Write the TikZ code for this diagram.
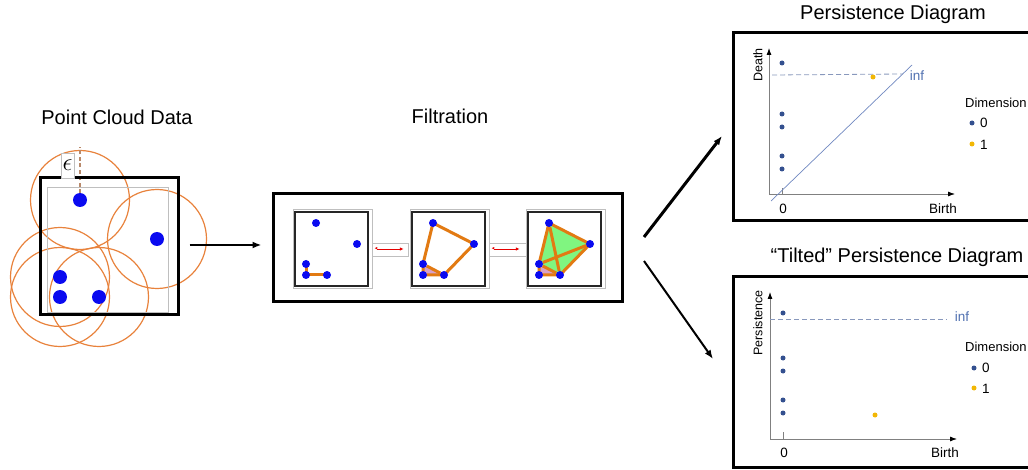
\documentclass[tikz,border=0pt]{standalone}
\usepackage{fontspec}
\setmainfont{Liberation Sans}
\usetikzlibrary{calc}
\usetikzlibrary{arrows.meta}
\usetikzlibrary{backgrounds}
\usepackage{xcolor}
\definecolor{ringorange}{HTML}{E8823C}
\definecolor{cloudblue}{HTML}{0A0AF0}
\definecolor{edgeorange}{HTML}{E27A12}
\definecolor{simplexgreen}{HTML}{80F580}
\definecolor{simplexpink}{HTML}{D8A0C8}
\definecolor{dimzero}{HTML}{34508F}
\definecolor{dimone}{HTML}{F2B705}
\definecolor{infblue}{HTML}{5070B0}
\definecolor{diagline}{HTML}{7088C0}
\definecolor{infline}{HTML}{8898BC}
\definecolor{epsline}{HTML}{B8896A}

\begin{document}
\begin{tikzpicture}[x=1pt,y=-1pt,
 title/.style={font=\fontsize{20}{24}\selectfont},
 lab/.style={font=\fontsize{13.5}{16}\selectfont, inner sep=0},
 bigbox/.style={draw, line width=3pt, inner sep=0},
 cdot/.style={circle, fill=cloudblue, inner sep=0, minimum size=14},
 pdot/.style={circle, fill=cloudblue, inner sep=0, minimum size=8},
 ddot/.style={circle, fill=#1, inner sep=0, minimum size=5},
 ring/.style={ringorange, line width=1.2pt},
 edge/.style={edgeorange, line width=3pt},
 axis/.style={black!50, line width=0.8pt, -{Latex[black,length=7pt,width=5pt]}},
 bigarrow/.style={-{Latex[length=9pt,width=7pt]}}]
\clip (0,0) rectangle (1028,470);

% point cloud
\node[title] (tcloud) at (117,117) {Point Cloud Data};
\node[bigbox, minimum width=138, minimum height=137] (cloud) at (109,246.5) {};
\draw[black!25] (47,187) rectangle (168,312);
\foreach \n/\p in {1/{(80,200)}, 2/{(157,239)}, 3/{(60,277)}, 4/{(60,297)}, 5/{(99,297)}}
 \node[cdot] (c\n) at \p {};
\coordinate (rtop) at (80,147);
\begin{scope}[on background layer]
 \foreach \n in {1,...,5} \draw[ring] (c\n) circle (49.5);
 \draw[epsline, line width=1.5pt, dash pattern=on 4pt off 2.5pt] (c1.center) -- (rtop);
\end{scope}
\node[draw=black!25, fill=white, inner xsep=1.5pt, inner ysep=0pt, minimum height=25, font=\fontsize{30}{34}\selectfont] (eps) at (67.5,165.5) {$\epsilon$};

% filtration
\node[title] (tfilt) at (450,116) {Filtration};
\node[bigbox, minimum width=349, minimum height=108] (filt) at (447.5,248) {};
\draw[line width=2pt, bigarrow, shorten <=10pt, shorten >=10pt] ([yshift=1.5pt]cloud.east) -- ([yshift=1.5pt]cloud.east -| filt.west);

\foreach \k/\dx in {1/0, 2/117, 3/233} {
 \draw[black!25] (293+\dx,209) rectangle (372+\dx,288);
 \node[draw=black!85, line width=2.5pt, minimum width=73, minimum height=74, inner sep=0] (panel\k) at (331.5+\dx,249) {};
 \foreach \j/\px/\py in {1/21/11, 2/62/32, 3/11/52, 4/11/63, 5/32/63}
  \node[pdot] (f\k\j) at (295+\dx+\px,212+\py) {};
}
\foreach \a/\b in {372/408, 489/526}
 \draw[black!25, fill=white] (\a,243) rectangle (\b,256);
\draw[red!90!black, line width=0.8pt, {Hooks[right,length=2pt,width=4pt]}-{Latex[length=4pt,width=3.5pt]}, shorten <=6pt, shorten >=7pt] (panel1) -- (panel2);
\draw[red!90!black, line width=0.8pt, {Hooks[right,length=2pt,width=4pt]}-{Latex[length=4pt,width=3.5pt]}, shorten <=6pt, shorten >=7pt] (panel2) -- (panel3);

\begin{scope}[on background layer]
 \fill[simplexgreen] (f31.center) -- (f32.center) -- (f35.center) -- (f33.center) -- cycle;
 \foreach \k in {2,3} \fill[simplexpink] (f\k3.center) -- (f\k4.center) -- (f\k5.center) -- cycle;
 \draw[edge] (f13.center) -- (f14.center) -- (f15.center);
 \draw[edge, line join=round] (f21.center) -- (f22.center) -- (f25.center) -- (f24.center) -- (f23.center) -- cycle;
 \draw[edge] (f23) -- (f25);
 \draw[edge, line join=round] (f31.center) -- (f32.center) -- (f35.center) -- (f34.center) -- (f33.center) -- cycle;
 \draw[edge] (f31) -- (f35) (f33) -- (f32) (f33) -- (f35);
\end{scope}

\coordinate (up0) at (644,237); \coordinate (up1) at (722,136);
\coordinate (dn0) at (644,261); \coordinate (dn1) at (713,359);
\draw[line width=3pt, bigarrow] (up0) -- (up1);
\draw[line width=2pt, bigarrow] (dn0) -- (dn1);

% persistence diagram
\node[title] (tpd) at (893,14) {Persistence Diagram};
\node[bigbox, minimum width=302, minimum height=188] (pd) at (884,127) {};
\coordinate (po) at (769,194);
\draw[axis] (po) -- ++(0,-146);
\draw[axis] (po) -- ++(186,0);
\draw[black!50, line width=0.8pt] (782,194) -- ++(0,-6);
\node[lab] (p0) at (783,209) {0};
\node[lab] (pbirth) at (943,209) {Birth};
\node[lab, font=\fontsize{12.5}{15}\selectfont, rotate=90] (pdeath) at (758,65) {Death};
\draw[diagline, line width=0.7pt] (771,201) -- (912,65);
\draw[infline, line width=0.8pt, dash pattern=on 5pt off 3pt] (772,75) -- (903,74);
\node[lab, text=infblue] (pinf) at (917,76) {inf};
\foreach \y in {63,114,127,156,169} \node[ddot=dimzero] (pz\y) at (782,\y) {};
\node[ddot=dimone] (pone) at (873,77) {};
\node[lab, anchor=west, font=\fontsize{13}{16}\selectfont] (pdim) at (965,103) {Dimension};
\node[ddot=dimzero] (pl0) at (972,123) {};
\node[lab, anchor=west] (pt0) at (980,123) {0};
\node[ddot=dimone] (pl1) at (972,144) {};
\node[lab, anchor=west] (pt1) at (980,145) {1};

% tilted persistence diagram
\node[title] (ttpd) at (897,257) {“Tilted” Persistence Diagram};
\node[bigbox, minimum width=302, minimum height=190] (tpdbox) at (884,372) {};
\coordinate (to) at (770,439);
\draw[axis] (to) -- ++(0,-147);
\draw[axis] (to) -- ++(187,0);
\draw[black!50, line width=0.8pt] (783,439) -- ++(0,-7);
\node[lab] (t0) at (784,453) {0};
\node[lab] (tbirth) at (945,453) {Birth};
\node[lab, font=\fontsize{12.5}{15}\selectfont, rotate=90] (tpers) at (758,323) {Persistence};
\draw[infline, line width=0.8pt, dash pattern=on 5pt off 3pt] (770,319) -- (947,319);
\node[lab, text=infblue] (tinf) at (962,317) {inf};
\foreach \y in {313,358,371,400,413} \node[ddot=dimzero] (tz\y) at (783,\y) {};
\node[ddot=dimone] (tone) at (875,415) {};
\node[lab, anchor=west, font=\fontsize{13}{16}\selectfont] (tdim) at (965,347) {Dimension};
\node[ddot=dimzero] (tl0) at (974,368) {};
\node[lab, anchor=west] (tt0) at (982,368) {0};
\node[ddot=dimone] (tl1) at (974,388) {};
\node[lab, anchor=west] (tt1) at (982,389) {1};
\end{tikzpicture}
\end{document}
